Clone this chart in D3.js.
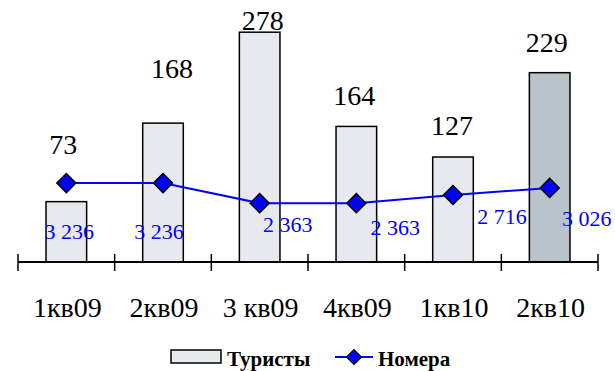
<!DOCTYPE html>
<html>
<head>
<meta charset="utf-8">
<script src="https://cdn.jsdelivr.net/npm/d3@7"></script>
</head>
<body style="margin:0; background:#fff">
<svg id="chart"></svg>
<script>
const quarters = ["1кв09", "2кв09", "3 кв09", "4кв09", "1кв10", "2кв10"];
const tourists = [73, 168, 278, 164, 127, 229];
const rooms = [3236, 3236, 2363, 2363, 2716, 3026];
const roomLabels = ["3 236", "3 236", "2 363", "2 363", "2 716", "3 026"];

// hand-placed label offsets (as in the original)
const barLabelShift = [[-3, 48], [9, 45], [3, 2], [-2, 21], [-1, 22], [-3, 21]];
const roomLabelShift = [[3, 56], [-4, 56], [28, 29], [39, 32], [49, 29], [37, 38]];

const W = 615, H = 371;
const plotLeft = 18, plotRight = 598, plotBase = 262, plotTop = 14;
const serif = "'Liberation Serif'";

const svg = d3.select("#chart").attr("width", W).attr("height", H);

const xTick = d3.scaleBand().domain(quarters).range([plotLeft, plotRight]).padding(0);
const xBar = d3.scaleBand().domain(quarters).range([plotLeft, plotRight])
  .paddingInner(0.58).paddingOuter(0.29);
const y = d3.scaleLinear().domain([0, 300]).range([plotBase, plotTop]);
const y2 = d3.scaleLinear().domain([-200, 10600]).range([plotBase, plotTop]);

const cx = q => xTick(q) + xTick.bandwidth() / 2;

// bars
svg.append("g").selectAll("rect")
  .data(quarters)
  .join("rect")
  .attr("x", q => xBar(q))
  .attr("y", (q, i) => y(tourists[i]))
  .attr("width", xBar.bandwidth())
  .attr("height", (q, i) => plotBase - y(tourists[i]))
  .attr("fill", (q, i) => i === quarters.length - 1 ? "#b8c4ca" : "#e7e9ee")
  .attr("stroke", "#000")
  .attr("stroke-width", 1.5);

// x axis with ticks between categories
const tickXs = quarters.map(q => xTick(q)).concat([plotRight]);
const axis = svg.append("g");
axis.append("line")
  .attr("x1", plotLeft).attr("x2", plotRight)
  .attr("y1", plotBase).attr("y2", plotBase)
  .attr("stroke", "#000").attr("stroke-width", 1.8);
axis.selectAll(".tick")
  .data(tickXs)
  .join("line")
  .attr("class", "tick")
  .attr("x1", d => d).attr("x2", d => d)
  .attr("y1", plotBase - 8).attr("y2", plotBase + 9)
  .attr("stroke", "#000").attr("stroke-width", 1.5);
axis.selectAll(".cat")
  .data(quarters)
  .join("text")
  .attr("class", "cat")
  .attr("x", q => cx(q) + 1)
  .attr("y", 317)
  .attr("text-anchor", "middle")
  .attr("font-family", serif)
  .attr("font-size", 28)
  .text(q => q);

// bar value labels
svg.append("g").selectAll("text")
  .data(quarters)
  .join("text")
  .attr("x", (q, i) => cx(q) + barLabelShift[i][0])
  .attr("y", (q, i) => y(tourists[i]) - barLabelShift[i][1])
  .attr("text-anchor", "middle")
  .attr("font-family", serif)
  .attr("font-size", 28)
  .text((q, i) => tourists[i]);

// rooms line
const line = d3.line()
  .x(q => cx(q))
  .y((q, i) => y2(rooms[i]));

svg.append("path")
  .datum(quarters)
  .attr("fill", "none")
  .attr("stroke", "#0000ff")
  .attr("stroke-width", 2)
  .attr("d", line);

const diamond = d3.symbol(d3.symbolSquare, 180);
svg.append("g").selectAll("path")
  .data(quarters)
  .join("path")
  .attr("d", diamond)
  .attr("transform", (q, i) => `translate(${cx(q)},${y2(rooms[i])}) rotate(45)`)
  .attr("fill", "#0000ff")
  .attr("stroke", "#000")
  .attr("stroke-width", 1.5);

svg.append("g").selectAll("text")
  .data(quarters)
  .join("text")
  .attr("x", (q, i) => cx(q) + roomLabelShift[i][0])
  .attr("y", (q, i) => y2(rooms[i]) + roomLabelShift[i][1])
  .attr("text-anchor", "middle")
  .attr("font-family", serif)
  .attr("font-size", 22)
  .attr("fill", "#0000ff")
  .text((q, i) => roomLabels[i]);

// legend
const legend = svg.append("g");
legend.append("rect")
  .attr("x", 171).attr("y", 350)
  .attr("width", 50).attr("height", 13)
  .attr("fill", "#e7e9ee")
  .attr("stroke", "#000").attr("stroke-width", 1.5);
legend.append("text")
  .attr("x", 227).attr("y", 366)
  .attr("font-family", serif)
  .attr("font-size", 21).attr("font-weight", "bold")
  .text("Туристы");
legend.append("line")
  .attr("x1", 335).attr("x2", 373)
  .attr("y1", 357).attr("y2", 357)
  .attr("stroke", "#0000ff").attr("stroke-width", 2);
legend.append("path")
  .attr("d", d3.symbol(d3.symbolSquare, 110))
  .attr("transform", "translate(354,357) rotate(45)")
  .attr("fill", "#0000ff")
  .attr("stroke", "#000")
  .attr("stroke-width", 1.2);
legend.append("text")
  .attr("x", 378).attr("y", 366)
  .attr("font-family", serif)
  .attr("font-size", 21).attr("font-weight", "bold")
  .text("Номера");
</script>
</body>
</html>
